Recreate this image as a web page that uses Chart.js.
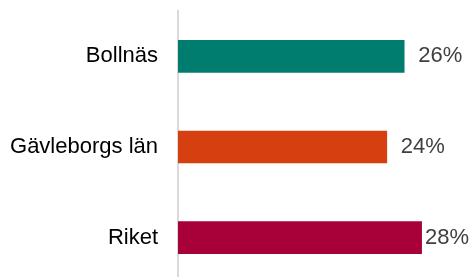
<!DOCTYPE html>
<html>
<head>
<meta charset="utf-8">
<script src="https://cdn.jsdelivr.net/npm/chart.js@4"></script>
<style>
  html, body { margin: 0; padding: 0; background: #fff; overflow: hidden; }
  #wrap { width: 471px; height: 283px; position: relative; }
</style>
</head>
<body>
<div id="wrap"><canvas id="chart"></canvas></div>
<script>
// kategorier och andelar (procent)
const kategorier = ["Bollnäs", "Gävleborgs län", "Riket"];
const andelar = [26, 24, 28];
const farger = ["#007d6e", "#d64010", "#a80038"];

// skriver ut procentvärdet efter varje stapel
const vardeEtiketter = {
    id: "vardeEtiketter",
    afterDatasetsDraw(chart) {
        const ctx = chart.ctx;
        const meta = chart.getDatasetMeta(0);
        ctx.save();
        ctx.font = "22px 'Liberation Sans', Arial, sans-serif";
        ctx.fillStyle = "#404040";
        ctx.textBaseline = "middle";
        meta.data.forEach((bar, i) => {
            const txt = andelar[i] + "%";
            const w = ctx.measureText(txt).width;
            let x = bar.x + 14;
            if (x + w > 469) x = 469 - w;
            ctx.fillText(txt, x, bar.y);
        });
        ctx.restore();
    }
};

new Chart(document.getElementById("chart"), {
    type: "bar",
    data: {
        labels: kategorier,
        datasets: [{
            data: andelar,
            backgroundColor: farger,
            barThickness: 32
        }]
    },
    options: {
        indexAxis: "y",
        responsive: true,
        maintainAspectRatio: false,
        animation: false,
        layout: { padding: { top: 11, right: 32, bottom: 0, left: 0 } },
        plugins: {
            legend: { display: false },
            tooltip: { enabled: false }
        },
        scales: {
            x: {
                display: false,
                min: 0,
                max: 30
            },
            y: {
                grid: { display: false, drawTicks: false },
                border: { display: true, color: "#d9d9d9", width: 2 },
                ticks: {
                    color: "#000",
                    padding: 20,
                    font: { family: "'Liberation Sans', Arial, sans-serif", size: 22 }
                },
                afterFit(scale) {
                    scale.width = 178;
                    scale.paddingTop = 0;
                    scale.paddingBottom = 0;
                }
            }
        }
    },
    plugins: [vardeEtiketter]
});
</script>
</body>
</html>
